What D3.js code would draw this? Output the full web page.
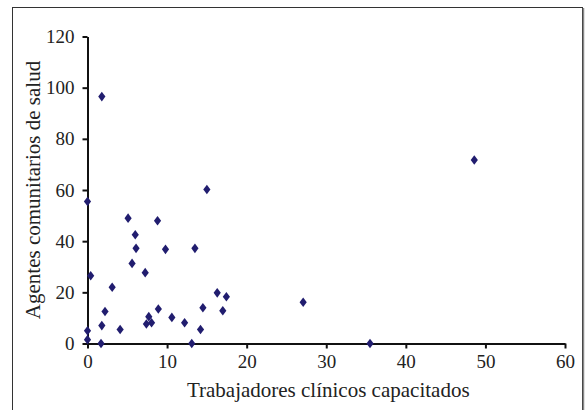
<!DOCTYPE html>
<html lang="es">
<head>
  <meta charset="UTF-8" />
  <title>Agentes comunitarios vs trabajadores clínicos</title>
  <script src="https://d3js.org/d3.v7.min.js"></script>
  <style>
    html, body {
      margin: 0;
      padding: 0;
      background: white;
      overflow: hidden;
    }
    svg text {
      font-family: "Liberation Serif", "Times New Roman", serif;
      fill: #222;
    }
  </style>
</head>
<body>
  <svg id="chart" width="585" height="410"></svg>

  <script>
    // trabajadores clínicos capacitados (x) / agentes comunitarios de salud (y)
    const clinicos = [0, 0.4, 0, 0, 1.7, 1.8, 1.8, 2.2, 3.1, 4.1, 5.1, 6, 6.1, 5.6, 7.25,
      7.4, 7.7, 8.05, 8.8, 8.9, 9.8, 10.6, 12.2, 13.1, 13.5, 14.2, 14.5, 15, 16.3,
      17.45, 17, 27.1, 35.5, 48.6];
    const agentes = [55.5, 26.5, 5, 1.5, 0, 7, 96.5, 12.5, 22, 5.5, 49, 42.5, 37.2, 31.3, 27.7,
      7.6, 10.5, 8.1, 48, 13.5, 36.8, 10.2, 8.1, 0, 37.2, 5.5, 14, 60.2, 19.8,
      18.3, 12.8, 16.1, 0, 71.7];
    const xTicks = [0, 10, 20, 30, 40, 50, 60];
    const yTicks = [0, 20, 40, 60, 80, 100, 120];

    const svg = d3.select("#chart");

    // marco exterior (borde inferior queda fuera de la imagen)
    svg.append("rect")
      .attr("x", 12.5).attr("y", 7.5)
      .attr("width", 570).attr("height", 420)
      .attr("fill", "none")
      .attr("stroke", "#333")
      .attr("stroke-width", 1);
    svg.append("line")
      .attr("x1", 583.5).attr("x2", 583.5)
      .attr("y1", 8).attr("y2", 410)
      .attr("stroke", "#888").attr("stroke-width", 1.5);

    const x = d3.scaleLinear().domain([0, 60]).range([87.5, 565]);
    const y = d3.scaleLinear().domain([0, 120]).range([343.5, 36.5]);

    const xAxis = svg.append("g")
      .attr("transform", `translate(0, ${y(0)})`)
      .call(d3.axisBottom(x).tickValues(xTicks).tickSize(5).tickPadding(6).tickSizeOuter(0));

    const yAxis = svg.append("g")
      .attr("transform", `translate(${x(0)}, 0)`)
      .call(d3.axisLeft(y).tickValues(yTicks).tickSize(5).tickPadding(8).tickSizeOuter(0));

    [xAxis, yAxis].forEach(a => {
      a.select(".domain").attr("stroke", "#111").attr("stroke-width", 2);
      a.selectAll(".tick line").attr("stroke", "#111").attr("stroke-width", 2);
      a.selectAll(".tick text")
        .attr("fill", "#222")
        .style("font-size", "19px")
        .style("font-family", "'Liberation Serif', 'Times New Roman', serif");
    });

    const diamond = "M0,-4.8 L3.6,0 L0,4.8 L-3.6,0 Z";
    svg.append("g")
      .selectAll("path")
      .data(clinicos.map((c, i) => [c, agentes[i]]))
      .join("path")
      .attr("d", diamond)
      .attr("transform", d => `translate(${x(d[0])}, ${y(d[1])})`)
      .attr("fill", "#211d6f");

    svg.append("text")
      .attr("x", (x(0) + x(60)) / 2 + 2)
      .attr("y", 397)
      .attr("text-anchor", "middle")
      .style("font-size", "21px")
      .text("Trabajadores clínicos capacitados");

    svg.append("text")
      .attr("transform", `translate(40, ${(y(0) + y(120)) / 2}) rotate(-90)`)
      .attr("text-anchor", "middle")
      .style("font-size", "21px")
      .text("Agentes comunitarios de salud");
  </script>
</body>
</html>
